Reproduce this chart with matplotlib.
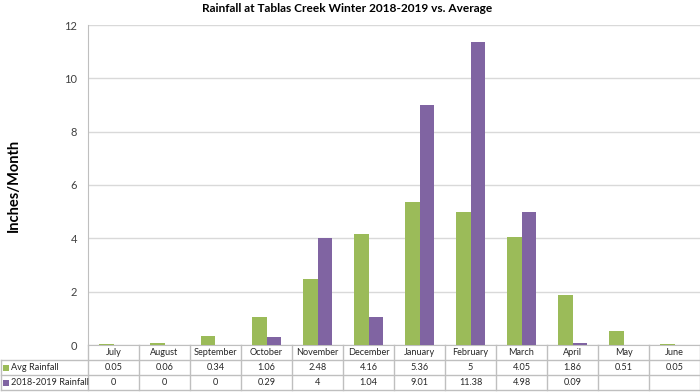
import matplotlib
matplotlib.use("Agg")
import matplotlib.pyplot as plt
import matplotlib.transforms as mtransforms
from matplotlib.patches import Rectangle
from matplotlib.lines import Line2D
import numpy as np

plt.rcParams['font.family'] = ['Lato', 'DejaVu Sans']

months = ["July", "August", "September", "October", "November", "December",
          "January", "February", "March", "April", "May", "June"]
avg_rain = [0.05, 0.06, 0.34, 1.06, 2.48, 4.16, 5.36, 5, 4.05, 1.86, 0.51, 0.05]
season_rain = [0, 0, 0, 0.29, 4, 1.04, 9.01, 11.38, 4.98, 0.09, None, None]
series_names = ["Avg Rainfall", "2018-2019 Rainfall"]
colors = ["#9BBB59", "#8064A2"]
title = "Rainfall at Tablas Creek Winter 2018-2019 vs. Average"
ylabel = "Inches/Month"

W, H = 700, 392
fig = plt.figure(figsize=(W / 100, H / 100), dpi=100)
fig.patch.set_facecolor("white")

def fy(py):
    return 1 - py / H

def fx(px):
    return px / W

ax = fig.add_axes([fx(88), fy(345), fx(612), 320 / H])
x = np.arange(len(months))
bw = 0.29
season_vals = [np.nan if v is None else v for v in season_rain]
ax.bar(x - bw / 2, avg_rain, bw, color=colors[0], zorder=3)
ax.bar(x + bw / 2, season_vals, bw, color=colors[1], zorder=3)
ax.set_xlim(-0.5, len(months) - 0.5)
ax.set_ylim(0, 12)
ax.set_yticks(range(0, 13, 2))
ax.yaxis.grid(True, color="#D9D9D9", lw=1.0, zorder=0)
ax.set_axisbelow(True)
ax.set_xticks([])
for s in ["top", "right"]:
    ax.spines[s].set_visible(False)
ax.spines["left"].set_color("#BFBFBF")
ax.spines["bottom"].set_color("#BFBFBF")
ax.tick_params(axis="y", length=0, pad=8, labelsize=8, labelcolor="#404040")

# Data table
tr = mtransforms.blended_transform_factory(ax.transData, fig.transFigure)
line_c = "#BFBFBF"
top, r1, r2, bot = 345, 360, 375, 390
n = len(months)
for i in range(n + 1):
    fig.add_artist(Line2D([i - 0.5, i - 0.5], [fy(top), fy(bot)], transform=tr, color=line_c, lw=1.0))
for yy in [r1, r2, bot]:
    fig.add_artist(Line2D([fx(0.5), fx(700)], [fy(yy), fy(yy)], transform=fig.transFigure, color=line_c, lw=1.0))
fig.add_artist(Line2D([fx(0.5), fx(0.5)], [fy(r1), fy(bot)], transform=fig.transFigure, color=line_c, lw=1.0))

fs = 6.6
txt_kw = dict(fontsize=fs, color="#262626", ha="center", va="center")
for i, m in enumerate(months):
    fig.text(i, fy((top + r1) / 2), m, transform=tr, **txt_kw)
rows = [avg_rain, season_rain]
for r, (vals, yc) in enumerate(zip(rows, [(r1 + r2) / 2, (r2 + bot) / 2])):
    for i, v in enumerate(vals):
        if v is None:
            continue
        fig.text(i, fy(yc), f"{v:g}", transform=tr, **txt_kw)
    fig.add_artist(Rectangle((fx(3), fy(yc + 3)), fx(6), 6 / H, transform=fig.transFigure,
                             facecolor=colors[r], edgecolor="none"))
    fig.text(fx(11), fy(yc), series_names[r], fontsize=fs, color="#262626", ha="left", va="center")

fig.text(fx(347), fy(8), title, fontsize=8.6, fontweight="bold", color="#000000", ha="center", va="center")
fig.text(fx(14), fy(185), ylabel, fontsize=10.5, fontweight="bold", rotation=90, ha="center", va="center")

fig.savefig("out.png", dpi=100, facecolor="white")
